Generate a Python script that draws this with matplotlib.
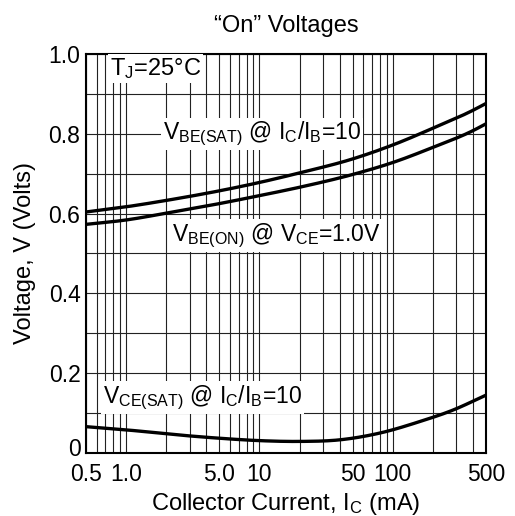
import numpy as np
import matplotlib
matplotlib.use("Agg")
import matplotlib.pyplot as plt
import matplotlib.transforms as mtransforms
from matplotlib.ticker import FixedLocator, NullFormatter, LogLocator

plt.rcParams['font.family'] = ['Liberation Sans', 'DejaVu Sans']
plt.rcParams['mathtext.fontset'] = 'custom'
plt.rcParams['mathtext.rm'] = 'Liberation Sans'
plt.rcParams['mathtext.it'] = 'Liberation Sans'
plt.rcParams['mathtext.default'] = 'regular'

# Data
ic_sat = [0.5, 1.0, 2.0, 5.0, 10, 20, 50, 100, 200, 400, 500]
vbe_sat = [0.604, 0.617, 0.633, 0.657, 0.678, 0.702, 0.737, 0.772, 0.814, 0.859, 0.876]

ic_on = [0.5, 1.0, 2.0, 5.0, 10, 20, 50, 100, 200, 400, 500]
vbe_on = [0.573, 0.584, 0.601, 0.625, 0.645, 0.666, 0.698, 0.728, 0.766, 0.808, 0.825]

ic_ce = [0.5, 1.0, 2.0, 5.0, 10, 20, 40, 80, 160, 280, 500]
vce_sat = [0.066, 0.058, 0.048, 0.037, 0.031, 0.029, 0.033, 0.050, 0.079, 0.107, 0.145]

xticks = [0.5, 1.0, 5.0, 10, 50, 100, 500]
xticklabels = ["0.5", "1.0", "5.0", "10", "50", "100", "500"]
yticks = [0, 0.2, 0.4, 0.6, 0.8, 1.0]
yticklabels = ["0", "0.2", "0.4", "0.6", "0.8", "1.0"]


def smooth(xs, ys, n=400):
    lx = np.log10(np.asarray(xs, float))
    ys = np.asarray(ys, float)
    N = len(lx)
    h = np.diff(lx)
    d = np.diff(ys) / h
    m = np.empty(N)
    m[0] = d[0]
    m[-1] = d[-1]
    for k in range(1, N - 1):
        m[k] = (h[k] * d[k - 1] + h[k - 1] * d[k]) / (h[k - 1] + h[k])
    t = np.linspace(lx[0], lx[-1], n)
    out = np.empty(n)
    for j, tv in enumerate(t):
        i = min(max(np.searchsorted(lx, tv) - 1, 0), N - 2)
        hh = h[i]
        s = (tv - lx[i]) / hh
        h00 = 2 * s**3 - 3 * s**2 + 1
        h10 = s**3 - 2 * s**2 + s
        h01 = -2 * s**3 + 3 * s**2
        h11 = s**3 - s**2
        out[j] = h00 * ys[i] + h10 * hh * m[i] + h01 * ys[i + 1] + h11 * hh * m[i + 1]
    return 10**t, out


fig = plt.figure(figsize=(5.15, 5.16), dpi=100)
ax = fig.add_axes([0.167, 0.1221, 0.7767, 0.7733])

ax.set_xscale('log')
ax.set_xlim(0.5, 500)
ax.set_ylim(0, 1.0)

ax.xaxis.set_major_locator(FixedLocator(xticks))
ax.set_xticklabels(xticklabels)
ax.xaxis.set_minor_locator(LogLocator(base=10, subs=np.arange(1, 10)))
ax.xaxis.set_minor_formatter(NullFormatter())
ax.set_yticks(yticks)
ax.set_yticklabels(yticklabels)
ax.set_yticks(np.arange(0.1, 1.0, 0.2), minor=True)

ax.grid(True, which='both', axis='both', color='#222222', linewidth=0.8)
ax.set_axisbelow(True)
ax.tick_params(which='both', length=0, labelsize=16.5)
ax.tick_params(axis='x', pad=7)
ax.tick_params(axis='y', pad=4)

# raise the "0" label slightly, as in the reference
zero_lbl = ax.get_yticklabels()[0]
zero_lbl.set_transform(zero_lbl.get_transform() +
                       mtransforms.ScaledTranslation(0, 4 / 72, fig.dpi_scale_trans))

for x, y in [(ic_sat, vbe_sat), (ic_on, vbe_on), (ic_ce, vce_sat)]:
    sx, sy = smooth(x, y)
    ax.plot(sx, sy, color='black', linewidth=2.4, zorder=3)

for sp in ax.spines.values():
    sp.set_linewidth(1.5)

bbox = dict(facecolor='white', edgecolor='none', pad=1.5)
ax.text(0.757, 0.963, r"T$_J$=25°C", fontsize=17, ha='left', va='center',
        bbox=bbox, zorder=4)
ax.text(10.4, 0.80, r"V$_{BE(SAT)}$ @ I$_C$/I$_B$=10", fontsize=16.5, ha='center',
        va='center', bbox=bbox, zorder=4)
ax.text(13.3, 0.545, r"V$_{BE(ON)}$ @ V$_{CE}$=1.0V", fontsize=16.5, ha='center',
        va='center', bbox=bbox, zorder=4)
ax.text(3.74, 0.139, r"V$_{CE(SAT)}$ @ I$_C$/I$_B$=10", fontsize=16.5, ha='center',
        va='center', bbox=bbox, zorder=4)

ax.set_title("\u201cOn\u201d Voltages", fontsize=17, pad=16)
ax.set_xlabel(r"Collector Current, I$_C$ (mA)", fontsize=17, labelpad=4)
ax.set_ylabel("Voltage, V (Volts)", fontsize=17, labelpad=9)

fig.savefig("out.png", dpi=100)
